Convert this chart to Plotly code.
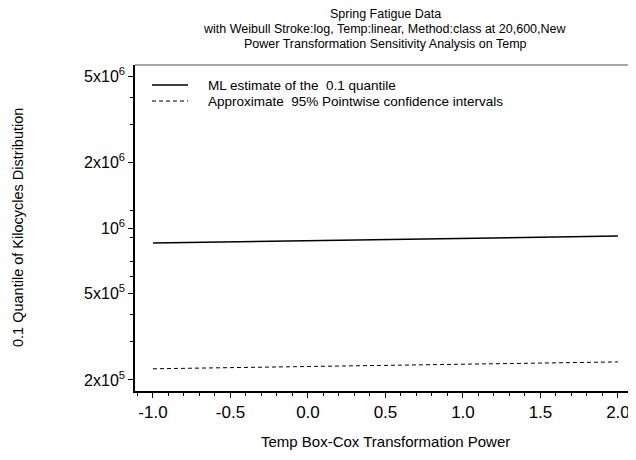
import plotly.graph_objects as go

# Data
power = [-1.0, -0.5, 0.0, 0.5, 1.0, 1.5, 2.0]
ml_quantile = [852000, 862000, 873000, 884000, 895000, 906000, 918000]
lower_ci = [225000, 228000, 231000, 234000, 237000, 240000, 242000]

series_names = ["ML estimate of the  0.1 quantile",
                "Approximate  95% Pointwise confidence intervals"]

y_tickvals = [2e5, 5e5, 1e6, 2e6, 5e6]
y_ticktext = ["2x10<sup>5</sup>", "5x10<sup>5</sup>", "10<sup>6</sup>", "2x10<sup>6</sup>", "5x10<sup>6</sup>"]
y_minor = [3e5, 4e5, 6e5, 7e5, 9e5, 1.2e6, 3e6, 4e6]
x_tickvals = [-1.0, -0.5, 0.0, 0.5, 1.0, 1.5, 2.0]
x_ticktext = ["-1.0", "-0.5", "0.0", "0.5", "1.0", "1.5", "2.0"]

title_lines = ["Spring Fatigue Data",
               "with Weibull Stroke:log, Temp:linear, Method:class at 20,600,New",
               "Power Transformation Sensitivity Analysis on Temp"]
x_title = "Temp Box-Cox Transformation Power"
y_title = "0.1 Quantile of Kilocycles Distribution"

FONT = "Arial, Liberation Sans, Helvetica, sans-serif"

# The page body adds an 8px offset; lay out in screen pixels and compensate.
OFF = 8
FIG_W, FIG_H = 636 - OFF, 460 - OFF
# plot area in screen pixels
L, R, T, B = 135, 635, 65, 391
W, H = R - L, B - T


def px(x):
    return (x - L) / W


def py(y):
    return (B - y) / H


fig = go.Figure()
fig.add_trace(go.Scatter(x=power, y=ml_quantile, mode="lines", name=series_names[0],
                         line=dict(color="black", width=1.5), showlegend=False))
fig.add_trace(go.Scatter(x=power, y=lower_ci, mode="lines", name=series_names[1],
                         line=dict(color="black", width=1, dash="4px,3px"), showlegend=False))

fig.update_layout(
    width=FIG_W, height=FIG_H,
    margin=dict(l=L - OFF, r=FIG_W - (R - OFF), t=T - OFF, b=FIG_H - (B - OFF)),
    paper_bgcolor="white", plot_bgcolor="white",
    font=dict(family=FONT, color="black", size=13),
    showlegend=False,
)

fig.update_xaxes(
    range=[-1.116, 2.11], tickvals=x_tickvals, ticktext=x_ticktext,
    showgrid=False, zeroline=False, automargin=False,
    showline=True, linecolor="black", linewidth=1.5, mirror=False,
    ticks="outside", ticklen=5, tickwidth=1, tickcolor="black",
    minor=dict(dtick=0.1, tick0=0, ticks="outside", ticklen=3, tickcolor="black", showgrid=False),
    tickfont=dict(size=17),
)
fig.update_yaxes(
    type="log", range=[5.25, 6.75], tickvals=y_tickvals, ticktext=y_ticktext,
    showgrid=False, zeroline=False, automargin=False,
    showline=True, linecolor="black", linewidth=1.5, mirror=True,
    ticks="outside", ticklen=5, tickwidth=1, tickcolor="black",
    minor=dict(tickvals=y_minor, ticks="outside", ticklen=3, tickcolor="black", showgrid=False),
    tickfont=dict(size=16),
)

# gray top frame line
fig.add_shape(type="line", xref="paper", yref="paper", x0=0, x1=1, y0=1, y1=1,
              line=dict(color="#888888", width=1.5))

# title (one annotation per line)
for yy, line in zip([14, 29, 44], title_lines):
    fig.add_annotation(text=line, xref="paper", yref="paper",
                       x=0.5, y=py(yy), xanchor="center", yanchor="middle", showarrow=False,
                       font=dict(size=12.5, family=FONT))
# axis titles
fig.add_annotation(text=x_title, xref="paper", yref="paper", x=0.5, y=py(441),
                   xanchor="center", yanchor="middle", showarrow=False,
                   font=dict(size=15, family=FONT))
fig.add_annotation(text=y_title, xref="paper", yref="paper", x=px(18), y=0.5,
                   xanchor="center", yanchor="middle", showarrow=False, textangle=-90,
                   font=dict(size=14.5, family=FONT))

# legend (manual)
legend_rows = [(85, "solid", 1.5), (101, "4px,3px", 1)]
for (yy, dash, w), name in zip(legend_rows, series_names):
    fig.add_shape(type="line", xref="paper", yref="paper", x0=px(152), x1=px(188),
                  y0=py(yy), y1=py(yy), line=dict(color="black", width=w, dash=dash))
    fig.add_annotation(text=name, xref="paper", yref="paper", x=px(206), y=py(yy),
                       xanchor="left", yanchor="middle", showarrow=False,
                       font=dict(size=13.5, family=FONT))

fig.write_html("out.html")
